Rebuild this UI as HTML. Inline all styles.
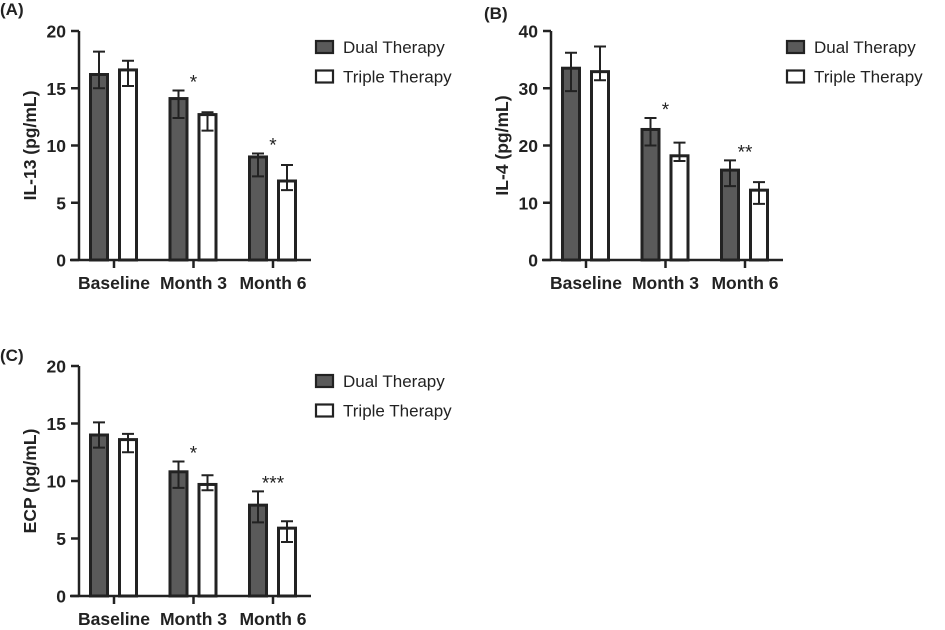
<!DOCTYPE html>
<html><head><meta charset="utf-8">
<style>
body{margin:0;background:#fff;width:945px;height:625px;overflow:hidden}
svg{font-family:"Liberation Sans",Arial,sans-serif}
</style></head>
<body>
<svg id="fig" width="945" height="625" viewBox="0 0 945 625" xmlns="http://www.w3.org/2000/svg"></svg>
<script>
const categories = ["Baseline","Month 3","Month 6"];
const seriesNames = ["Dual Therapy","Triple Therapy"];
const il13Dual = [16.2,14.1,9.0];
const il13DualLo = [15.0,12.4,7.3];
const il13DualHi = [18.2,14.8,9.3];
const il13Triple = [16.6,12.7,6.9];
const il13TripleLo = [15.2,11.3,6.1];
const il13TripleHi = [17.4,12.9,8.3];
const il13Stars = ["","*","*"];
const il13Ticks = [0,5,10,15,20];
const il4Dual = [33.5,22.8,15.7];
const il4DualLo = [29.5,20.0,12.9];
const il4DualHi = [36.2,24.8,17.4];
const il4Triple = [32.9,18.2,12.2];
const il4TripleLo = [31.4,17.3,9.8];
const il4TripleHi = [37.3,20.5,13.6];
const il4Stars = ["","*","**"];
const il4Ticks = [0,10,20,30,40];
const ecpDual = [14.0,10.8,7.9];
const ecpDualLo = [12.9,9.4,6.4];
const ecpDualHi = [15.1,11.7,9.1];
const ecpTriple = [13.6,9.7,5.9];
const ecpTripleLo = [12.5,9.2,4.7];
const ecpTripleHi = [14.1,10.5,6.5];
const ecpStars = ["","*","***"];
const ecpTicks = [0,5,10,15,20];

const NS="http://www.w3.org/2000/svg";
const svg=document.getElementById('fig');
function mk(tag,attrs,parent){const e=document.createElementNS(NS,tag);for(const k in attrs)e.setAttribute(k,attrs[k]);(parent||svg).appendChild(e);return e;}

function panel(cfg){
  const g=mk('g',{});
  
  
  const ax=cfg.ax, y0=cfg.y0, y1=cfg.y1, max=cfg.ticks[cfg.ticks.length-1];
  const yS=v=>y0-(v/max)*(y0-y1);
  const xC=i=>ax+35+i*79.5;
  const pl=mk('text',{x:cfg.lx,y:cfg.ly,'font-size':17,'font-weight':'bold',fill:'#222'},g);
  pl.textContent=cfg.label;
  
  
  for(let i=0;i<categories.length;i++){
    const sets=[[cfg.dual[i],cfg.dlo[i],cfg.dhi[i],'#5a5a5a',-15],[cfg.trip[i],cfg.tlo[i],cfg.thi[i],'#fff',14]];
    sets.forEach((s,j)=>{
      const cx=xC(i)+s[4];
      const r=mk('rect',{x:cx-8.5,y:yS(s[0]),width:17,height:y0-yS(s[0]),fill:s[3],stroke:'#222','stroke-width':3},g);
      
      
      const e=mk('path',{d:`M${cx} ${yS(s[1])}V${yS(s[2])}M${cx-6} ${yS(s[1])}H${cx+6}M${cx-6} ${yS(s[2])}H${cx+6}`,stroke:'#222','stroke-width':2,fill:'none'},g);
      
      
    });
    if(cfg.stars[i]){
      const top=Math.max(cfg.dhi[i],cfg.thi[i]);
      const st=mk('text',{x:xC(i),y:yS(top)-2,'font-size':19,'text-anchor':'middle',fill:'#222'},g);
      st.textContent=cfg.stars[i];
      
      
    }
    const t=mk('path',{d:`M${xC(i)} ${y0}v8`,stroke:'#222','stroke-width':2.5},g);
    
    
    const lb=mk('text',{x:xC(i),y:y0+29,'font-size':17.5,'font-weight':'bold','text-anchor':'middle',fill:'#222'},g);
    lb.textContent=categories[i];
    
    
  }
  const a=mk('path',{d:`M${ax} ${y1}V${y0}M${ax-9} ${y0}H${ax+232}`,stroke:'#222','stroke-width':2.5,fill:'none'},g);
  
  
  cfg.ticks.forEach(v=>{
    const tk=mk('path',{d:`M${ax-8} ${yS(v)}H${ax}`,stroke:'#222','stroke-width':2.5},g);
    
    
    const tl=mk('text',{x:ax-13,y:yS(v)+6.5,'font-size':17.5,'font-weight':'bold','text-anchor':'end',fill:'#222'},g);
    tl.textContent=v;
    
    
  });
  const yt=mk('text',{x:0,y:0,'font-size':17.5,'font-weight':'bold','text-anchor':'middle',fill:'#222',transform:`translate(${ax-43},${(y0+y1)/2}) rotate(-90)`},g);
  yt.textContent=cfg.ytitle;
  
  
  seriesNames.forEach((n,j)=>{
    const ly=cfg.legY+j*29.5;
    const lr=mk('rect',{x:cfg.legX,y:ly-6,width:17,height:12,fill:j?'#fff':'#5a5a5a',stroke:'#222','stroke-width':2.2},g);
    
    
    const lt=mk('text',{x:cfg.legX+27,y:ly+6,'font-size':17,fill:'#222'},g);
    lt.textContent=n;
    
    
  });
}
panel({name:'il13',label:'(A)',lx:0,ly:15,ax:79,y0:260,y1:31,ticks:il13Ticks,dual:il13Dual,dlo:il13DualLo,dhi:il13DualHi,trip:il13Triple,tlo:il13TripleLo,thi:il13TripleHi,stars:il13Stars,ytitle:'IL-13 (pg/mL)',legX:316,legY:47});
panel({name:'il4',label:'(B)',lx:484,ly:19,ax:551,y0:260,y1:31,ticks:il4Ticks,dual:il4Dual,dlo:il4DualLo,dhi:il4DualHi,trip:il4Triple,tlo:il4TripleLo,thi:il4TripleHi,stars:il4Stars,ytitle:'IL-4 (pg/mL)',legX:787,legY:47});
panel({name:'ecp',label:'(C)',lx:0,ly:361,ax:79,y0:596,y1:366,ticks:ecpTicks,dual:ecpDual,dlo:ecpDualLo,dhi:ecpDualHi,trip:ecpTriple,tlo:ecpTripleLo,thi:ecpTripleHi,stars:ecpStars,ytitle:'ECP (pg/mL)',legX:316,legY:381});
</script>
</body></html>
